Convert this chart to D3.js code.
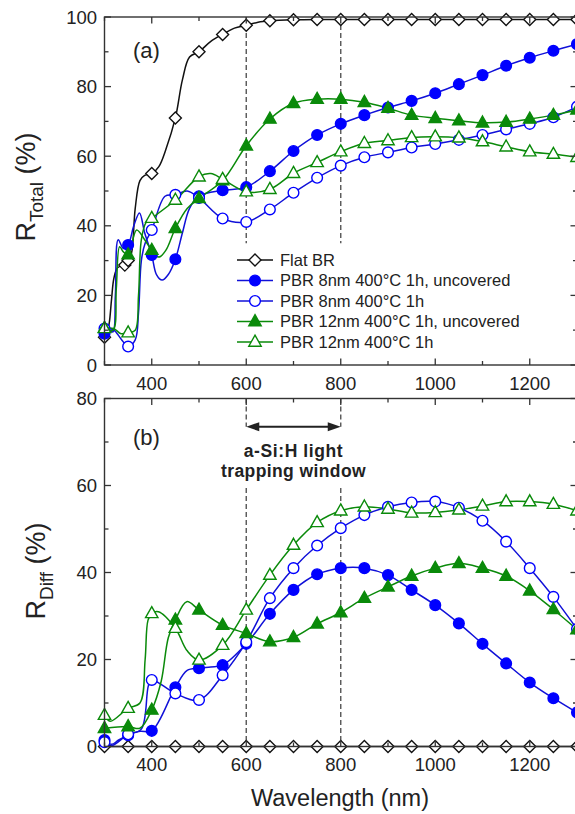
<!DOCTYPE html>
<html><head><meta charset="utf-8">
<script src="https://cdn.jsdelivr.net/npm/d3@7"></script>
<style>
html,body{margin:0;padding:0;background:#fff;}
svg{display:block;font-family:"Liberation Sans",Arial,sans-serif;}
</style></head>
<body>
<svg id="chart" width="575" height="814"></svg>
<script>
// ---------- DATA ----------
const wavelengths = [300,350,400,450,500,550,600,650,700,750,800,850,900,950,1000,1050,1100,1150,1200,1250,1300];
const xTicksMajor = [400,600,800,1000,1200];
const yTicksA = [0,20,40,60,80,100];
const yTicksB = [0,20,40,60,80];
const seriesNames = ["Flat BR","PBR 8nm 400°C 1h, uncovered","PBR 8nm 400°C 1h","PBR 12nm 400°C 1h, uncovered","PBR 12nm 400°C 1h"];

// Panel (a) R_Total
const flatWlA = [300,343,350,400,450,500,550,600,650,700,750,800,850,900,950,1000,1050,1100,1150,1200,1250,1300];
const flatA   = [8,28.7,30,55,71,90,95,97.6,98.9,99.2,99.3,99.3,99.3,99.3,99.3,99.3,99.3,99.3,99.3,99.3,99.3,99.3];
const flatAExtra = [[305,9],[310,12],[315,19],[320,25],[328,28],[357,32],[365,45],[375,53],[385,54.5],[415,57],[430,62],[465,82],[480,88.5],[525,93],[575,96.8],[625,98.5]];
const b8uA = [9,34.5,31.6,30.4,48.5,50.2,51.1,55.7,61.5,66.1,69.3,71.8,74.0,75.9,78.1,80.7,83.3,86.0,88.3,90.3,92.2];
const b8uAExtra = [[310,10],[318,9.5],[323,20],[329,36],[340,33.5],[362,40],[374,43.7],[385,38],[410,26],[422,24.4],[435,26],[465,38],[480,45]];
const b8A = [10.5,5.3,38.8,48.9,48,42.1,41.1,44.7,49.5,53.8,57.3,59.7,61.1,62.5,63.5,64.7,66.1,67.7,69.3,71.2,74.2];
const b8AExtra = [[319,10.1],[335,7.5],[365,7.2],[372,15],[378,30],[386,35],[428,48.5],[475,50]];
const g12uA = [10.6,31.7,33,39.3,47.9,53,63,70.7,75.2,76.4,76.4,75.5,73.8,71.8,70.9,70.2,69.6,69.8,70.7,71.8,73.3];
const g12uAExtra = [[318,10],[325,22],[332,34],[340,32.5],[368,38.8],[385,36],[415,31],[430,33],[475,45]];
const g12A = [10.5,9.3,42.2,47.4,54.1,53.4,49.8,50.5,55.1,58.2,61.3,63.7,64.5,65.4,65.6,65.3,64.2,62.7,61.3,60.6,59.7];
const g12AExtra = [[319,10.5],[335,9],[365,10],[372,20],[378,36],[388,41],[525,55]];

// Panel (b) R_Diff
const flatB = [0,0,0,0,0,0,0,0,0,0,0,0,0,0,0,0,0,0,0,0,0];
const flatBExtra = [];
const b8uB = [1.5,2.6,3.6,13.6,18.0,18.7,23.6,30.5,36.0,39.6,41.0,41.0,39.4,36.0,32.5,28.3,23.6,19.1,14.7,11.1,7.8];
const b8uBExtra = [[315,0.5],[330,1.5],[375,3.5],[475,17.5],[525,18.3]];
const b8B = [1.0,2.8,15.3,12.2,10.7,16.4,24,34.1,41.0,46.2,50.2,53.2,55.1,56.1,56.3,54.9,51.9,47.1,41.0,34.4,27];
const b8BExtra = [[315,0.2],[378,4],[393,14]];
const g12uB = [4.2,4.6,8.4,29.1,31.4,27.9,26,24.1,25.1,28.2,30.8,34.1,36.7,39.2,41.0,42.1,41.0,39.2,35.8,31.5,26.9];
const g12uBExtra = [[375,4.2],[420,15],[435,25],[474,33.3]];
const g12B = [7.2,8.8,30.6,27.2,19.9,23.3,31.4,39.4,46.3,51.5,54.2,55.1,54.6,53.7,53.8,54.4,55.3,56.3,56.3,55.7,54.2];
const g12BExtra = [[312,5.8],[375,10],[386,20],[392,29],[414,31],[475,22]];

const windowEdges = [600,800];
const windowLabel = ["a-Si:H light","trapping window"];

// ---------- STYLE ----------
const BLUE = "#0000ff", BLUE_LINE="#1010d8", GREEN = "#0a8a0a", BLACK="#111";
const styles = [
  {color:BLACK, line:BLACK, shape:"diamond", filled:false},
  {color:BLUE, line:BLUE_LINE, shape:"circle", filled:true},
  {color:BLUE, line:BLUE_LINE, shape:"circle", filled:false},
  {color:GREEN, line:GREEN, shape:"triangle", filled:true},
  {color:GREEN, line:GREEN, shape:"triangle", filled:false}
];

const svg = d3.select("#chart");
const x = d3.scaleLinear().domain([300,1300]).range([104.5,577]);
const yA = d3.scaleLinear().domain([0,100]).range([365,17]);
const yB = d3.scaleLinear().domain([0,80]).range([746.5,398.5]);
const AX = "#333";

function mergeLine(wls, vals, extra){
  const pts = wls.map((w,i)=>[w,vals[i]]).concat(extra);
  pts.sort((a,b)=>a[0]-b[0]);
  return pts;
}

function markerPath(shape){
  if(shape==="circle") return d3.symbol(d3.symbolCircle, 90)();
  if(shape==="triangle") return "M0,-6.8L6.2,4.2L-6.2,4.2Z";
  return "M0,-6L6,0L0,6L-6,0Z";
}

function drawFrame(g, y, yTicks, yMinor, showXLabels){
  const [x0,x1] = x.range(); const [yb,yt] = y.range();
  // ticks inward
  const xMinor = d3.range(300,1301,100).filter(v=>!xTicksMajor.includes(v));
  const tick = (x1_,y1_,x2_,y2_) => g.append("line").attr("x1",x1_).attr("y1",y1_).attr("x2",x2_).attr("y2",y2_).attr("stroke",AX).attr("stroke-width",1.3);
  xTicksMajor.forEach(v=>{ tick(x(v),yb,x(v),yb-6.5); tick(x(v),yt,x(v),yt+6.5); });
  xMinor.forEach(v=>{ tick(x(v),yb,x(v),yb-4); tick(x(v),yt,x(v),yt+4); });
  yTicks.forEach(v=>{ tick(x0,y(v),x0+6.5,y(v)); tick(x1,y(v),x1-6.5,y(v)); });
  yMinor.forEach(v=>{ tick(x0,y(v),x0+4,y(v)); tick(x1,y(v),x1-4,y(v)); });
  g.append("rect").attr("x",x0).attr("y",yt).attr("width",x1-x0).attr("height",yb-yt)
    .attr("fill","none").attr("stroke",AX).attr("stroke-width",1.4);
  yTicks.forEach(v=>{
    g.append("text").attr("x",97).attr("y",y(v)).attr("dy","0.36em").attr("text-anchor","end")
      .attr("font-size",18.5).attr("fill","#222").text(v);
  });
  if(showXLabels){
    xTicksMajor.forEach(v=>{
      g.append("text").attr("x",x(v)).attr("y",yb+24.5).attr("text-anchor","middle")
       .attr("font-size",18.5).attr("fill","#222").text(v);
    });
  }
}

function drawSeries(g, y, list){
  const line = d3.line().x(d=>x(d[0])).y(d=>y(d[1])).curve(d3.curveCatmullRom.alpha(0.5));
  list.forEach((s,i)=>{
    g.append("path").attr("d",line(mergeLine(s.wl,s.vals,s.extra))).attr("fill","none")
      .attr("stroke",styles[i].line).attr("stroke-width",1.5);
  });
  list.forEach((s,i)=>{
    const st = styles[i];
    g.selectAll(null).data(s.wl.map((w,j)=>[w,s.vals[j]])).enter().append("path")
      .attr("d",markerPath(st.shape))
      .attr("transform",d=>`translate(${x(d[0])},${y(d[1])})`)
      .attr("fill",st.filled?st.color:"#fff").attr("stroke",st.color).attr("stroke-width",1.4);
  });
}

function dashed(g, xv, y, v0, v1){
  g.append("line").attr("x1",x(xv)).attr("x2",x(xv)).attr("y1",y(v0)).attr("y2",y(v1))
   .attr("stroke","#555").attr("stroke-width",1.4).attr("stroke-dasharray","5,3");
}

// ---------- PANEL A ----------
const gA = svg.append("g");
windowEdges.forEach(w=>dashed(gA,w,yA,100,35));
drawSeries(gA, yA, [
  {wl:flatWlA, vals:flatA, extra:flatAExtra},
  {wl:wavelengths, vals:b8uA, extra:b8uAExtra},
  {wl:wavelengths, vals:b8A, extra:b8AExtra},
  {wl:wavelengths, vals:g12uA, extra:g12uAExtra},
  {wl:wavelengths, vals:g12A, extra:g12AExtra}
]);
drawFrame(gA, yA, yTicksA, [10,30,50,70,90], true);
gA.append("text").attr("x",133).attr("y",58).attr("font-size",22).attr("fill","#222").text("(a)");

// legend
const legY0 = 260, legDy = 20.5;
seriesNames.forEach((name,i)=>{
  const yy = legY0 + i*legDy, st = styles[i];
  gA.append("line").attr("x1",237).attr("x2",273).attr("y1",yy).attr("y2",yy).attr("stroke",st.line).attr("stroke-width",1.5);
  gA.append("path").attr("d",markerPath(st.shape)).attr("transform",`translate(255,${yy})`)
    .attr("fill",st.filled?st.color:"#fff").attr("stroke",st.color).attr("stroke-width",1.4);
  gA.append("text").attr("x",280).attr("y",yy).attr("dy","0.36em").attr("font-size",16.5).attr("fill","#222").text(name);
});

// y title A
const tA = gA.append("text").attr("transform","translate(35,187) rotate(-90)").attr("text-anchor","middle")
  .attr("font-size",27).attr("fill","#222");
tA.append("tspan").text("R");
tA.append("tspan").attr("font-size",19).attr("dy",8).text("Total");
tA.append("tspan").attr("dy",-8).text(" (%)");

// ---------- PANEL B ----------
const gB = svg.append("g");
const arrowY = 426.7;
windowEdges.forEach(w=>{ dashed(gB,w,yB,80,yB.invert(arrowY)); dashed(gB,w,yB,yB.invert(488),0); });
drawSeries(gB, yB, [
  {wl:wavelengths, vals:flatB, extra:flatBExtra},
  {wl:wavelengths, vals:b8uB, extra:b8uBExtra},
  {wl:wavelengths, vals:b8B, extra:b8BExtra},
  {wl:wavelengths, vals:g12uB, extra:g12uBExtra},
  {wl:wavelengths, vals:g12B, extra:g12BExtra}
]);
drawFrame(gB, yB, yTicksB, [10,30,50,70], true);
gB.append("text").attr("x",133).attr("y",445).attr("font-size",22).attr("fill","#222").text("(b)");

// arrow
const ax0 = x(windowEdges[0]), ax1 = x(windowEdges[1]);
gB.append("line").attr("x1",ax0+10).attr("x2",ax1-10).attr("y1",arrowY).attr("y2",arrowY).attr("stroke","#222").attr("stroke-width",2);
gB.append("path").attr("d",`M${ax0},${arrowY}L${ax0+13},${arrowY-4.5}L${ax0+13},${arrowY+4.5}Z`).attr("fill","#222");
gB.append("path").attr("d",`M${ax1},${arrowY}L${ax1-13},${arrowY-4.5}L${ax1-13},${arrowY+4.5}Z`).attr("fill","#222");
const cx = (ax0+ax1)/2;
gB.append("text").attr("x",cx).attr("y",456.5).attr("text-anchor","middle").attr("font-size",17.5).attr("font-weight","bold")
  .attr("letter-spacing",0.6).attr("fill","#222").text(windowLabel[0]);
gB.append("text").attr("x",cx).attr("y",476.5).attr("text-anchor","middle").attr("font-size",17.5).attr("font-weight","bold")
  .attr("letter-spacing",0.4).attr("fill","#222").text(windowLabel[1]);

// y title B
const tB = gB.append("text").attr("transform","translate(45,571) rotate(-90)").attr("text-anchor","middle")
  .attr("font-size",27).attr("fill","#222");
tB.append("tspan").text("R");
tB.append("tspan").attr("font-size",19).attr("dy",8).text("Diff");
tB.append("tspan").attr("dy",-8).text(" (%)");

// x title
svg.append("text").attr("x",340).attr("y",806).attr("text-anchor","middle").attr("font-size",23.5).attr("fill","#222").text("Wavelength (nm)");
</script>
</body></html>
